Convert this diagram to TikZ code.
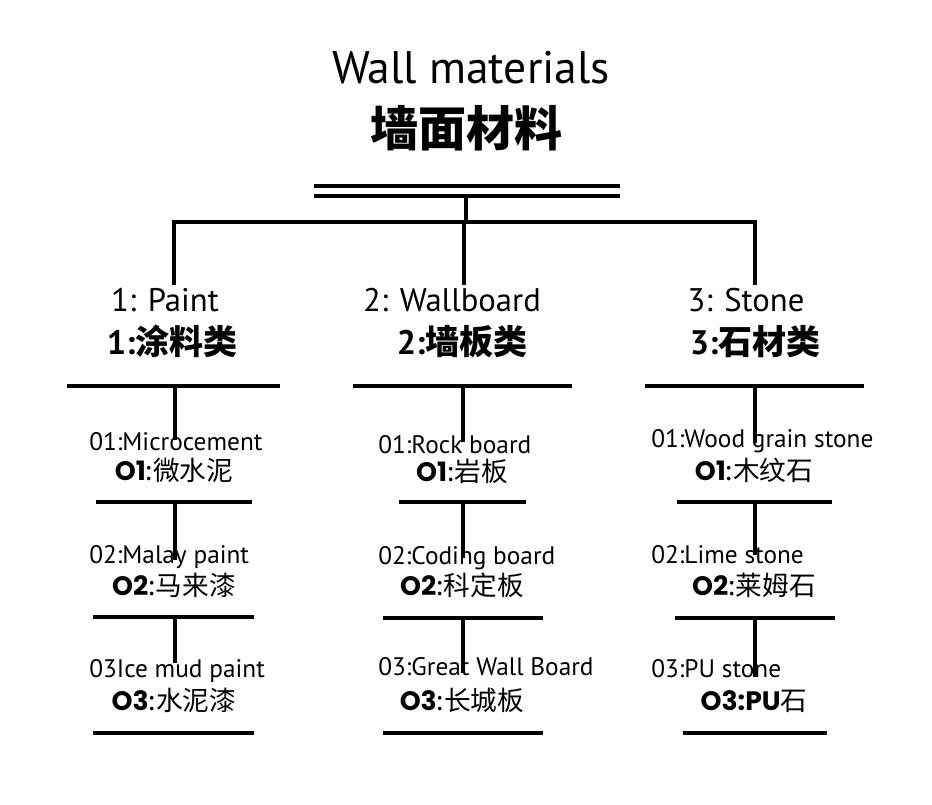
\documentclass[tikz,border=0pt]{standalone}
\usepackage{fontspec}
\setmainfont{PT Sans}
\newfontfamily\cjk{Noto Sans CJK SC}
\newfontfamily\pop{Poppins}
\begin{document}
\begin{tikzpicture}[x=0.75pt,y=-0.75pt,
  bar/.style={line width=3pt},
  txt/.style={inner sep=0pt, anchor=base},
  titleen/.style={txt, font=\fontsize{34.2}{34.2}\selectfont},
  titlecn/.style={txt, font=\cjk\bfseries\fontsize{36}{36}\selectfont},
  caten/.style={txt, font=\fontsize{24.5}{24.5}\selectfont},
  catcn/.style={txt, font=\bfseries\fontsize{25.5}{25.5}\selectfont},
  suben/.style={txt, anchor=base west, font=\fontsize{19}{19}\selectfont},
  subcn/.style={txt, font=\fontsize{20}{20}\selectfont},
]
\useasboundingbox (0,0) rectangle (932,804);
\newcommand\nb[1]{{\pop\bfseries #1}}
% title
\node[titleen] (ten) at (471,83) {Wall materials};
\node[titlecn] (tcn) at (466,146) {墙面材料};
% double line
\coordinate (d1l) at (314,186); \coordinate (d1r) at (620,186);
\coordinate (d2l) at (314,196); \coordinate (d2r) at (620,196);
\draw[bar] (d1l) -- (d1r);
\draw[bar] (d2l) -- (d2r);
\coordinate (root) at (466,196);
\coordinate (hubt) at (466,222);
\coordinate (hub) at (463.5,222);
\coordinate (ha) at (174,222);
\coordinate (hc) at (755,222);
\coordinate (ta) at (174,285);
\coordinate (tb) at (463.5,285);
\coordinate (tc) at (755,285);
\draw[bar] (root) -- (hubt);
\draw[bar, line join=miter] (ta) -- (ha) -- (hc) -- (tc);
\draw[bar] (hub) -- (tb);
% categories
\node[caten] (ca) at (165,311) {1: Paint};
\node[caten] (cb) at (452,311) {2: Wallboard};
\node[caten] (cc) at (746,311) {3: Stone};
\node[catcn] (za) at (172,354) {1:{\cjk 涂料类}};
\node[catcn] (zb) at (462,354) {2:{\cjk 墙板类}};
\node[catcn] (zc) at (755,354) {3:{\cjk 石材类}};
% category bars
\coordinate (a0l) at (67,386);  \coordinate (a0r) at (280,386);
\coordinate (b0l) at (353,386); \coordinate (b0r) at (572,386);
\coordinate (c0l) at (645,386); \coordinate (c0r) at (864,386);
\draw[bar] (a0l) -- (a0r); \draw[bar] (b0l) -- (b0r); \draw[bar] (c0l) -- (c0r);
% sub bars
\coordinate (a1l) at (96,502);  \coordinate (a1r) at (252,502);
\coordinate (a2l) at (93,617);  \coordinate (a2r) at (254,617);
\coordinate (a3l) at (93,733);  \coordinate (a3r) at (254,733);
\coordinate (b1l) at (399,502); \coordinate (b1r) at (526,502);
\coordinate (b2l) at (383,618); \coordinate (b2r) at (543,618);
\coordinate (b3l) at (383,733); \coordinate (b3r) at (543,733);
\coordinate (c1l) at (677,502); \coordinate (c1r) at (832,502);
\coordinate (c2l) at (675,618); \coordinate (c2r) at (835,618);
\coordinate (c3l) at (683,733); \coordinate (c3r) at (827,733);
\foreach \b in {a1,a2,a3,b1,b2,b3,c1,c2,c3}{\draw[bar] (\b l) -- (\b r);}
% verticals
\coordinate (av0) at (175,386); \coordinate (av0e) at (175,440);
\coordinate (av1) at (175,502); \coordinate (av1e) at (175,560);
\coordinate (av2) at (175,617); \coordinate (av2e) at (175,663);
\coordinate (bv0) at (463,386); \coordinate (bv0e) at (463,442);
\coordinate (bv1) at (463,502); \coordinate (bv1e) at (463,558);
\coordinate (bv2) at (463,618); \coordinate (bv2e) at (463,673);
\coordinate (cv0) at (755,386); \coordinate (cv0e) at (755,443);
\coordinate (cv1) at (755,502); \coordinate (cv1e) at (755,555);
\coordinate (cv2) at (755,618); \coordinate (cv2e) at (755,677);
\foreach \v in {av0,av1,av2,bv0,bv1,bv2,cv0,cv1,cv2}{\draw[bar] (\v) -- (\v e);}
% sub items, column 1
\node[suben] (a1e) at (89,450) {01:Microcement};
\node[subcn] (a1c) at (174,480) {\nb{O1}{\cjk :微水泥}};
\node[suben] (a2e) at (89,563) {02:Malay paint};
\node[subcn] (a2c) at (174,595) {\nb{O2}{\cjk :马来漆}};
\node[suben] (a3e) at (89,677) {03Ice mud paint};
\node[subcn] (a3c) at (174,710) {\nb{O3}{\cjk :水泥漆}};
% column 2
\node[suben] (b1e) at (378,453) {01:Rock board};
\node[subcn] (b1c) at (462,481) {\nb{O1}{\cjk :岩板}};
\node[suben] (b2e) at (378,564) {02:Coding board};
\node[subcn] (b2c) at (462,595) {\nb{O2}{\cjk :科定板}};
\node[suben] (b3e) at (378,675) {03:Great Wall Board};
\node[subcn] (b3c) at (462,710) {\nb{O3}{\cjk :长城板}};
% column 3
\node[suben] (c1e) at (651,447) {01:Wood grain stone};
\node[subcn] (c1c) at (754,480) {\nb{O1}{\cjk :木纹石}};
\node[suben] (c2e) at (651,563) {02:Lime stone};
\node[subcn] (c2c) at (754,595) {\nb{O2}{\cjk :莱姆石}};
\node[suben] (c3e) at (651,677) {03:PU stone};
\node[subcn] (c3c) at (754,710) {\nb{O3:PU}{\cjk 石}};
\end{tikzpicture}
\end{document}
